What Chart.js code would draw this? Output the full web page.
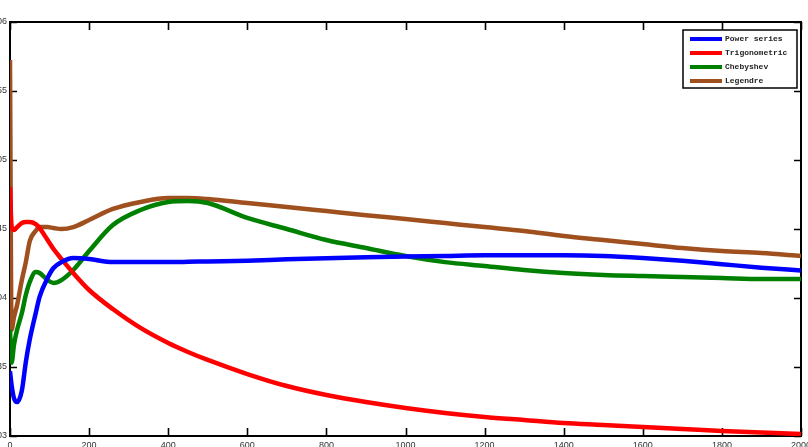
<!DOCTYPE html>
<html>
<head>
<meta charset="utf-8">
<script src="https://cdn.jsdelivr.net/npm/chart.js@4/dist/chart.umd.min.js"></script>
<style>
  html, body { margin: 0; padding: 0; overflow: hidden; background: #fff; }
  #wrap { position: absolute; left: -40px; top: 0; width: 850px; height: 460px; }
</style>
</head>
<body>
<div id="wrap"><canvas id="lineChart" width="850" height="460"></canvas></div>
<script>
// sample positions (x axis)
var xs = [0, 4, 10, 18, 30, 40, 50, 65, 75, 95, 110, 130, 160, 200, 260, 330, 400, 450, 500,
  600, 700, 800, 900, 1000, 1100, 1200, 1300, 1400, 1500, 1600, 1700, 1800, 1900, 2000];

var powerSeries = [0.0347, 0.0337, 0.03275, 0.03246, 0.0333, 0.03536, 0.0370, 0.0389, 0.0401, 0.04145,
  0.04217, 0.0426, 0.0429, 0.04283, 0.0426, 0.0426, 0.0426, 0.04262, 0.04265, 0.0427, 0.0428, 0.04288,
  0.04295, 0.0430, 0.04305, 0.0431, 0.0431, 0.0431, 0.04305, 0.0429, 0.0427, 0.04245, 0.0422, 0.0420];

var trigonometric = [0.04804, 0.0452, 0.04493, 0.04514, 0.04543, 0.04551, 0.04551, 0.04536, 0.04507, 0.0442,
  0.04355, 0.04283, 0.04181, 0.04058, 0.0392, 0.03783, 0.03674, 0.03609, 0.03551, 0.03449, 0.03362, 0.03297,
  0.03246, 0.03203, 0.03167, 0.03138, 0.03116, 0.03094, 0.0308, 0.03065, 0.03051, 0.03036, 0.03025, 0.03014];

var chebyshev = [0.0377, 0.0353, 0.0366, 0.0377, 0.03891, 0.04022, 0.04116, 0.04188, 0.04181, 0.0413,
  0.04109, 0.0413, 0.04203, 0.0434, 0.04529, 0.04638, 0.04696, 0.04703, 0.04688, 0.0458, 0.045, 0.0442,
  0.04362, 0.04304, 0.0426, 0.04232, 0.04203, 0.04181, 0.04167, 0.04159, 0.04152, 0.04145, 0.04138, 0.04138];

var legendre = [0.05725, 0.0377, 0.0386, 0.0395, 0.0413, 0.0426, 0.04413, 0.04486, 0.04514, 0.04514,
  0.04507, 0.045, 0.04514, 0.04565, 0.04645, 0.04696, 0.04725, 0.04725, 0.04717, 0.04688, 0.0466, 0.0463,
  0.0460, 0.04572, 0.04543, 0.04514, 0.04486, 0.04449, 0.0442, 0.04391, 0.04362, 0.0434, 0.04326, 0.04304];

var seriesNames = ["Power series", "Trigonometric", "Chebyshev", "Legendre"];
var seriesColors = ["#0000ff", "#ff0000", "#008000", "#a0501e"];

var xTicks = [0, 200, 400, 600, 800, 1000, 1200, 1400, 1600, 1800, 2000];
var yTicks = ["0.03", "0.035", "0.04", "0.045", "0.05", "0.055", "0.06"];

function pts(ys) {
  var out = [];
  for (var i = 0; i < xs.length; i++) out.push({x: xs[i], y: ys[i]});
  return out;
}

var allSeries = [powerSeries, trigonometric, chebyshev, legendre];
var datasets = [];
for (var k = 0; k < allSeries.length; k++) {
  datasets.push({
    label: seriesNames[k],
    data: pts(allSeries[k]),
    borderColor: seriesColors[k],
    backgroundColor: seriesColors[k],
    borderWidth: 4.5,
    pointRadius: 0,
    fill: false,
    cubicInterpolationMode: 'monotone'
  });
}

// box + inward ticks like the original plot
var frame = {
  id: 'frame',
  beforeDatasetsDraw: function(chart) {
    var c = chart.ctx, a = chart.chartArea;
    var sx = chart.scales.x, sy = chart.scales.y;
    c.save();
    c.strokeStyle = '#000';
    c.lineWidth = 1.6;
    c.beginPath();
    xTicks.forEach(function(v) {
      var px = Math.round(sx.getPixelForValue(v)) + 0.5;
      c.moveTo(px, a.bottom); c.lineTo(px, a.bottom - 8);
      c.moveTo(px, a.top); c.lineTo(px, a.top + 8);
    });
    yTicks.forEach(function(v) {
      var py = Math.round(sy.getPixelForValue(parseFloat(v))) + 0.5;
      c.moveTo(a.left, py); c.lineTo(a.left + 7, py);
      c.moveTo(a.right, py); c.lineTo(a.right - 7, py);
    });
    c.stroke();
    c.lineWidth = 2;
    c.strokeRect(a.left, a.top, a.right - a.left, a.bottom - a.top);
    c.restore();
  },
  afterDraw: function(chart) {
    var c = chart.ctx, a = chart.chartArea;
    var w = 114, h = 58;
    var bx = a.right - 4 - w, by = a.top + 8;
    c.save();
    c.fillStyle = '#fff';
    c.fillRect(bx, by, w, h);
    c.strokeStyle = '#000';
    c.lineWidth = 1.5;
    c.strokeRect(bx, by, w, h);
    c.font = 'bold 8px "Liberation Mono"';
    c.textBaseline = 'middle';
    c.fillStyle = '#222';
    for (var i = 0; i < seriesNames.length; i++) {
      var yy = by + 9 + i * 14;
      c.strokeStyle = seriesColors[i];
      c.lineWidth = 4;
      c.beginPath();
      c.moveTo(bx + 7, yy); c.lineTo(bx + 39, yy);
      c.stroke();
      c.fillText(seriesNames[i], bx + 42, yy);
    }
    c.restore();
  }
};

var ctxL = document.getElementById("lineChart").getContext('2d');
var myLineChart = new Chart(ctxL, {
  type: 'line',
  data: { datasets: datasets },
  options: {
    responsive: false,
    animation: false,
    layout: { padding: { top: 22, right: 9, left: 0, bottom: 0 } },
    plugins: { legend: { display: false }, tooltip: { enabled: false } },
    scales: {
      x: {
        type: 'linear', min: 0, max: 2000,
        grid: { display: false, drawTicks: false },
        border: { display: false },
        afterBuildTicks: function(s) { s.ticks = xTicks.map(function(v) { return {value: v}; }); },
        afterFit: function(s) { s.height = 24; s.paddingLeft = 0; s.paddingRight = 0; },
        ticks: { padding: 4, maxRotation: 0, autoSkip: false, color: '#333',
                 font: { family: 'Liberation Sans', size: 9 },
                 callback: function(v, i) { return String(xTicks[i]); } }
      },
      y: {
        type: 'linear', min: 0.03, max: 0.06,
        grid: { display: false, drawTicks: false },
        border: { display: false },
        afterBuildTicks: function(s) { s.ticks = yTicks.map(function(v) { return {value: parseFloat(v)}; }); },
        afterFit: function(s) { s.width = 50; s.paddingTop = 0; s.paddingBottom = 0; },
        ticks: { padding: 3, color: '#333', font: { family: 'Liberation Sans', size: 9 },
                 callback: function(v, i) { return yTicks[i]; } }
      }
    }
  },
  plugins: [frame]
});
</script>
</body>
</html>
